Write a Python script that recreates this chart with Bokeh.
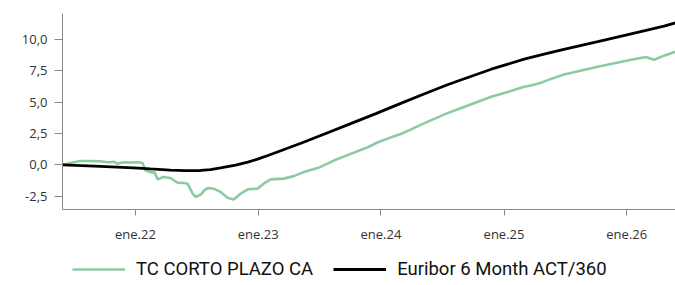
import pandas as pd
from bokeh.plotting import figure
from bokeh.layouts import column
from bokeh.models import (ColumnDataSource, Range1d, FixedTicker, CustomJSTickFormatter,
                          Legend, LegendItem)
from bokeh.embed import file_html
from bokeh.resources import INLINE

# --- data ---
fund_dates = ["2021-05-29", "2021-06-22", "2021-07-21", "2021-08-20", "2021-09-19", "2021-10-04",
              "2021-10-18", "2021-10-30", "2021-11-08", "2021-11-26", "2021-12-17", "2022-01-10",
              "2022-01-22", "2022-01-31", "2022-02-15", "2022-02-27", "2022-03-08", "2022-03-25",
              "2022-04-15", "2022-05-06", "2022-05-27", "2022-06-05", "2022-06-20", "2022-06-29",
              "2022-07-14", "2022-07-26", "2022-08-06", "2022-08-21", "2022-09-11", "2022-10-02",
              "2022-10-11", "2022-10-20", "2022-11-10", "2022-12-01", "2022-12-30", "2023-01-17",
              "2023-02-07", "2023-03-18", "2023-04-17", "2023-05-16", "2023-06-27", "2023-08-14",
              "2023-10-03", "2023-11-23", "2023-12-23", "2024-01-31", "2024-02-29", "2024-05-08",
              "2024-07-15", "2024-08-17", "2024-11-24", "2025-01-12", "2025-03-02", "2025-03-22",
              "2025-04-21", "2025-05-11", "2025-06-28", "2025-10-07", "2026-01-14", "2026-02-27",
              "2026-03-23", "2026-04-22", "2026-05-28"]
fund_values = [0.0, 0.15, 0.3, 0.3, 0.28, 0.22,
               0.2, 0.25, 0.08, 0.2, 0.18, 0.2,
               0.15, -0.45, -0.58, -0.62, -1.16, -0.97,
               -1.05, -1.42, -1.45, -1.5, -2.29, -2.56,
               -2.37, -2.0, -1.84, -1.9, -2.16, -2.63,
               -2.7, -2.77, -2.29, -1.95, -1.9, -1.5,
               -1.16, -1.1, -0.9, -0.58, -0.26, 0.34,
               0.87, 1.4, 1.8, 2.19, 2.45, 3.3,
               4.1, 4.43, 5.43, 5.8, 6.22, 6.33,
               6.54, 6.75, 7.2, 7.81, 8.38, 8.6,
               8.38, 8.7, 9.04]

bench_dates = ["2021-05-29", "2021-09-19", "2021-12-26", "2022-02-15", "2022-04-15", "2022-05-28",
               "2022-07-14", "2022-08-12", "2022-09-11", "2022-10-26", "2022-12-01", "2022-12-30",
               "2023-02-01", "2023-03-09", "2023-05-08", "2023-07-21", "2023-10-03", "2023-12-17",
               "2024-02-29", "2024-05-08", "2024-07-15", "2024-08-17", "2024-11-24", "2025-03-02",
               "2025-04-21", "2025-06-28", "2025-10-07", "2026-01-14", "2026-04-22", "2026-05-28"]
bench_values = [0.0, -0.12, -0.24, -0.33, -0.42, -0.46,
                -0.45, -0.38, -0.25, -0.02, 0.22, 0.45,
                0.76, 1.12, 1.72, 2.5, 3.28, 4.08,
                4.9, 5.64, 6.36, 6.68, 7.62, 8.42,
                8.76, 9.2, 9.82, 10.44, 11.05, 11.33]

y_ticks = [-2.5, 0.0, 2.5, 5.0, 7.5, 10.0]
x_tick_years = [2022, 2023, 2024, 2025, 2026]
series_names = ["TC CORTO PLAZO CA", "Euribor 6 Month ACT/360"]
series_colors = ["#8ccaa2", "#000000"]

fund_src = ColumnDataSource(dict(x=pd.to_datetime(fund_dates), y=fund_values))
bench_src = ColumnDataSource(dict(x=pd.to_datetime(bench_dates), y=bench_values))

p = figure(width=675, height=245, output_backend="svg", toolbar_location=None,
           x_axis_type="datetime",
           x_range=Range1d(pd.Timestamp("2021-05-29"), pd.Timestamp("2026-05-26")),
           y_range=Range1d(-3.56, 12.06),
           min_border_left=62, min_border_right=0, min_border_top=13, min_border_bottom=34)
p.outline_line_color = None
p.grid.visible = False

p.line("x", "y", source=fund_src, line_color=series_colors[0], line_width=2.6)
p.line("x", "y", source=bench_src, line_color=series_colors[1], line_width=2.8)

tick_ms = [pd.Timestamp(f"{y}-01-01").value / 1e6 for y in x_tick_years]
p.xaxis.ticker = FixedTicker(ticks=tick_ms)
p.xaxis.formatter = CustomJSTickFormatter(code="""
const d = new Date(tick);
return 'ene.' + String(d.getUTCFullYear()).slice(2);
""")
p.yaxis.ticker = FixedTicker(ticks=y_ticks)
p.yaxis.formatter = CustomJSTickFormatter(code="return tick.toFixed(1).replace('.', ',');")

for ax in (p.xaxis[0], p.yaxis[0]):
    ax.axis_line_color = "#8a8a8a"
    ax.major_tick_line_color = "#8a8a8a"
    ax.minor_tick_line_color = None
    ax.major_tick_in = 0
    ax.major_label_text_font = "Open Sans"
    ax.major_label_text_font_size = "13px"
    ax.major_label_text_color = "#333333"
p.xaxis.major_tick_out = 6
p.xaxis.major_label_standoff = 9
p.yaxis.major_tick_out = 8
p.yaxis.major_label_standoff = 7

# legend strip below the chart (same series, drawn off-range so only the legend shows)
lg = figure(width=675, height=40, output_backend="svg", toolbar_location=None,
            x_range=Range1d(0, 1), y_range=Range1d(0, 1),
            x_axis_location=None, y_axis_location=None,
            min_border_left=0, min_border_right=0, min_border_top=0, min_border_bottom=0)
lg.outline_line_color = None
lg.grid.visible = False
r0 = lg.line("x", "y", source=fund_src, line_color=series_colors[0], line_width=2.6)
r1 = lg.line("x", "y", source=bench_src, line_color=series_colors[1], line_width=2.8)
legend = Legend(items=[LegendItem(label=series_names[0], renderers=[r0]),
                       LegendItem(label=series_names[1], renderers=[r1])],
                orientation="horizontal", location=(10, 5),
                glyph_width=53, glyph_height=20, label_height=20, label_standoff=11,
                spacing=20, padding=0, margin=0,
                border_line_alpha=0, background_fill_alpha=0,
                label_text_font="Roboto", label_text_font_size="18.5px",
                label_text_color="#111111")
lg.add_layout(legend)

layout = column(p, lg, spacing=0)
open("out.html", "w").write(file_html(layout, INLINE))
